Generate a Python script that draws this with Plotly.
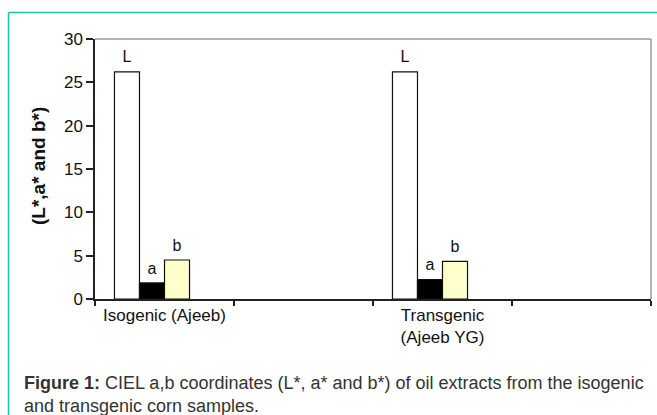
import plotly.graph_objects as go

categories = ["Isogenic (Ajeeb)", " ", "Transgenic<br>(Ajeeb YG)", "  "]
series_names = ["L*", "a*", "b*", "blank"]
L_values = [26.2, None, 26.2, None]
a_values = [1.85, None, 2.25, None]
b_values = [4.5, None, 4.35, None]
blank_values = [None, None, None, None]
bar_labels = ["L", "a", "b", ""]
bar_colors = ["#ffffff", "#000000", "#ffffcc", "#ffffff"]

W, H = 657, 415
FONT = "Arial, Liberation Sans, sans-serif"
LABEL_LIFT = 0.4  # small lift of label above bar top, in axis units

fig = go.Figure()
all_vals = [L_values, a_values, b_values, blank_values]
for i, (name, vals, col) in enumerate(zip(series_names, all_vals, bar_colors)):
    fig.add_trace(go.Bar(
        x=categories, y=vals, name=name, offsetgroup=str(i),
        marker=dict(color=col, line=dict(color="#111111", width=1.2)),
    ))
for i, (name, vals, lab) in enumerate(zip(series_names, all_vals, bar_labels)):
    xs = [c for c, v in zip(categories, vals) if v is not None]
    ys = [v + LABEL_LIFT for v in vals if v is not None]
    if not xs:
        continue
    fig.add_trace(go.Bar(
        x=xs, y=ys, offsetgroup=str(i), base=0,
        marker=dict(color="rgba(0,0,0,0)", line=dict(width=0)),
        text=[lab] * len(xs), textposition="outside", cliponaxis=False,
        textangle=0, constraintext="none",
        textfont=dict(family=FONT, size=16, color="#111111"),
        hoverinfo="skip",
    ))

x0, x1 = 95 / W, 651 / W
y0, y1 = 1 - 299 / H, 1 - 39 / H

fig.update_layout(
    template="none",
    width=W, height=H, barmode="group", bargap=0.28, bargroupgap=0,
    margin=dict(l=0, r=0, t=0, b=0, pad=0),
    paper_bgcolor="white", plot_bgcolor="white", showlegend=False,
    font=dict(family=FONT, color="#111111"),
    xaxis=dict(domain=[x0, x1], type="category", tickson="boundaries", automargin=False,
               ticks="outside", ticklen=5, tickcolor="#222", tickwidth=1.5,
               showline=True, linecolor="#222", linewidth=1.5,
               showgrid=False, tickfont=dict(size=17, family=FONT, color="#111")),
    yaxis=dict(domain=[y0, y1], range=[0, 30], dtick=5, automargin=False,
               ticks="outside", ticklen=7, tickcolor="#222", tickwidth=1.5,
               showline=True, linecolor="#222", linewidth=1.5,
               showgrid=False, zeroline=False,
               tickfont=dict(size=17, family=FONT, color="#111")),
)

# gray plot-area border top & right
fig.add_shape(type="line", xref="x domain", yref="y domain", x0=0, x1=1, y0=1, y1=1,
              line=dict(color="#9a9a9a", width=1.5))
fig.add_shape(type="line", xref="x domain", yref="y domain", x0=1, x1=1, y0=0, y1=1,
              line=dict(color="#9a9a9a", width=1.5))

# teal frame
teal = "#20c0a4"
fig.add_shape(type="line", xref="paper", yref="paper", x0=8.5 / W, x1=1, y0=1 - 12.5 / H, y1=1 - 12.5 / H,
              line=dict(color=teal, width=1.5))
fig.add_shape(type="line", xref="paper", yref="paper", x0=8.5 / W, x1=8.5 / W, y0=0, y1=1 - 12.5 / H,
              line=dict(color=teal, width=1.5))

# y title
fig.add_annotation(text="<b>(L*,a* and b*)</b>", xref="paper", yref="paper",
                   x=38 / W, y=1 - 166 / H, xanchor="center", yanchor="middle",
                   textangle=-90, showarrow=False,
                   font=dict(family=FONT, size=19, color="#111"))

# caption
fig.add_annotation(text="<b>Figure 1:</b> CIEL a,b coordinates (L*, a* and b*) of oil extracts from the isogenic<br>and transgenic corn samples.",
                   xref="paper", yref="paper", x=22 / W, y=1 - 371 / H,
                   xanchor="left", yanchor="top", align="left", showarrow=False,
                   font=dict(family=FONT, size=18, color="#333"))

fig.write_html("out.html", config={"displayModeBar": False},
               post_script="document.body.style.margin='0';document.body.style.overflow='hidden';")
